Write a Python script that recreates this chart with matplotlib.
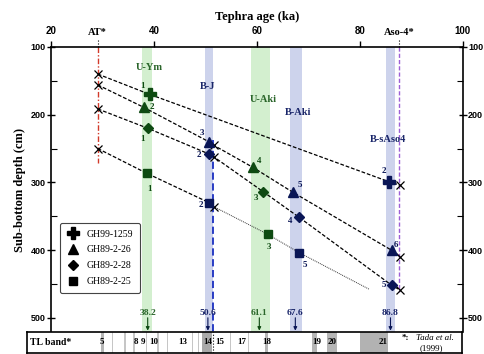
# -*- coding: utf-8 -*-
"""
Tephra age vs. sub-bottom depth for four cores, with the TL band strip.
"""

import numpy as np
import matplotlib.pyplot as plt

#------#
# DATA #
#------#

# Marker tephra age (ka)
age_AT   = 29.1
age_Aso4 = 87.7

# Core points: age (ka), depth (cm), colour class ('g' green / 'b' blue / 'x' cross), label
core_names = ['GH99-1259', 'GH89-2-26', 'GH89-2-28', 'GH89-2-25']

c1259_age   = [29.1, 39.2, 85.7, 87.8]
c1259_depth = [140, 170, 299, 304]
c1259_kind  = ['x', 'g', 'b', 'x']
c1259_lab   = ['', '1', '2', '']

c226_age   = [29.1, 38.0, 50.7, 51.6, 59.3, 67.0, 86.3, 87.8]
c226_depth = [156, 189, 240, 245, 278, 314.5, 400.6, 409.5]
c226_kind  = ['x', 'g', 'b', 'x', 'g', 'b', 'b', 'x']
c226_lab   = ['', '2', '3', '', '4', '5', '6', '']

c228_age   = [29.1, 38.8, 50.7, 51.6, 61.2, 68.2, 86.3, 87.8]
c228_depth = [191.5, 220, 258, 262, 313.5, 351.4, 452.3, 458.7]
c228_kind  = ['x', 'g', 'b', 'x', 'g', 'b', 'b', 'x']
c228_lab   = ['', '1', '2', '', '3', '4', '5', '']

c225_age   = [29.1, 38.6, 50.7, 51.6, 62.1, 68.2]
c225_depth = [250, 286.5, 329.8, 335.7, 376.5, 403.6]
c225_kind  = ['x', 'g', 'b', 'x', 'g', 'b']
c225_lab   = ['', '1', '2', '', '3', '5']
# end of the extrapolated (dotted) line for GH89-2-25
c225_ext_age, c225_ext_depth = 81.8, 457.6

# Tephra bands (ka)
green_bands = [(37.7, 39.7), (58.8, 62.5)]
blue_bands  = [(50.0, 51.5), (66.4, 68.7), (85.2, 86.9)]
band_names  = ['U-Ym', 'B-J', 'U-Aki', 'B-Aki', 'B-sAso4']
band_name_x = [39.2, 50.5, 61.2, 68.0, 85.6]
band_name_y = [131, 159, 178, 197, 236]
band_name_c = ['g', 'b', 'g', 'b', 'b']

# TL ages with arrows
tl_ages   = ['38.2', '50.6', '61.1', '67.6', '86.8']
tl_arrowx = [38.8, 50.5, 60.5, 67.5, 86.0]
tl_col    = ['g', 'b', 'g', 'b', 'b']

# TL band strip: grey boundaries (start, end, grey level) and numbers
tl_bars = [(29.7, 30.3, 0.62), (31.8, 32.1, 0.7), (34.2, 34.5, 0.7), (36.0, 36.3, 0.7),
           (38.4, 38.7, 0.7), (40.6, 40.9, 0.7), (42.5, 42.8, 0.7), (47.3, 47.6, 0.7),
           (48.5, 48.8, 0.7), (49.3, 51.3, 0.55), (54.8, 55.0, 0.7), (58.3, 58.5, 0.7),
           (61.6, 62.1, 0.62), (70.7, 71.7, 0.62), (73.6, 75.5, 0.62), (80.0, 85.4, 0.6)]
tl_nums  = ['5', '8', '9', '10', '13', '14', '15', '17', '18', '19', '20', '21']
tl_numx  = [29.9, 36.6, 37.9, 39.9, 45.6, 50.4, 52.8, 57.0, 61.9, 71.6, 74.5, 84.5]

#--------#
# STYLES #
#--------#

GREEN_D = '#0e4a12'
BLUE_D  = '#0a1656'
GREEN_L = '#d3efcf'
BLUE_L  = '#cdd3ec'
colmap  = {'g': GREEN_D, 'b': BLUE_D, 'x': 'k'}
txtmap  = {'g': '#2a652a', 'b': '#1a266a'}
serif   = 'Liberation Serif'
sans    = 'Liberation Sans'

# label offsets in points for each numbered point
offs = {
    'GH99-1259': [None, (-5, 6), (-4, 8), None],
    'GH89-2-26': [None, (6, 0), (-5, 6), None, (4, 5), (5, 5), (3, 4), None],
    'GH89-2-28': [None, (-4, -8), (-7, -1), None, (-5, -5), (-6, -3), (-6, 0), None],
    'GH89-2-25': [None, (2, -11), (-6, -2), None, (1, -9), (4, -9)],
}
mk = {'GH99-1259': 'P', 'GH89-2-26': '^', 'GH89-2-28': 'D', 'GH89-2-25': 's'}
ms = {'GH99-1259': 8.0, 'GH89-2-26': 6.5, 'GH89-2-28': 5.2, 'GH89-2-25': 6.0}

#------#
# PLOT #
#------#

fig = plt.figure(figsize=(4.84, 3.54), dpi=100)
fig.patch.set_facecolor('white')
ax = fig.add_axes([51/484, 1-332/354, 411.5/484, 285/354])

# bands
for a0, a1 in green_bands:
    ax.axvspan(a0, a1, color=GREEN_L, lw=0, zorder=0)
for a0, a1 in blue_bands:
    ax.axvspan(a0, a1, color=BLUE_L, lw=0, zorder=0)

# marker tephra lines
ax.plot([age_AT, age_AT], [100, 272], color='#d23a2a', lw=1.0,
        dashes=(4, 1.5, 1, 1.5), zorder=1)
ax.plot([age_Aso4, age_Aso4], [100, 462], color='#9d5fd6', lw=1.0,
        dashes=(3, 1.5), zorder=1)
ax.plot([51.5, 51.5], [238, 521], color='#1a2fc0', lw=1.3, dashes=(4, 2), zorder=1)
for xx in [age_AT, age_Aso4]:
    ax.plot([xx, xx], [100, 88], color='k', lw=0.8, ls=':', clip_on=False)

# cores
cores = [(c1259_age, c1259_depth, c1259_kind, c1259_lab),
         (c226_age, c226_depth, c226_kind, c226_lab),
         (c228_age, c228_depth, c228_kind, c228_lab),
         (c225_age, c225_depth, c225_kind, c225_lab)]

for name, (xa, yd, kd, lb) in zip(core_names, cores):
    if name == 'GH89-2-25':
        ax.plot(xa[:4], yd[:4], color='k', lw=0.9, dashes=(3, 1.5), zorder=2)
        ax.plot(xa[3:] + [c225_ext_age], yd[3:] + [c225_ext_depth], color='#333333',
                lw=0.7, ls=(0, (1, 1)), zorder=2)
    else:
        ax.plot(xa, yd, color='k', lw=0.9, dashes=(3, 1.5), zorder=2)
    for i in range(len(xa)):
        if kd[i] == 'x':
            ax.plot(xa[i], yd[i], marker='x', color='k', ms=6, mew=0.9, zorder=3)
        else:
            ax.plot(xa[i], yd[i], marker=mk[name], color=colmap[kd[i]], ms=ms[name],
                    mec=colmap[kd[i]], zorder=4)
            ax.annotate(lb[i], (xa[i], yd[i]), xytext=offs[name][i],
                        textcoords='offset points', ha='center', va='center',
                        fontsize=6.5, fontweight='bold', family=serif,
                        color=colmap[kd[i]])

# band names
for nm, bx, by, bc in zip(band_names, band_name_x, band_name_y, band_name_c):
    ax.text(bx, by, nm, ha='center', va='center', fontsize=7.5, fontweight='bold',
            family=serif, color=txtmap[bc])

ax.text(age_AT, 79, 'AT*', ha='center', va='center', fontsize=7.5, fontweight='bold',
        family=serif, clip_on=False)
ax.text(age_Aso4, 79, 'Aso-4*', ha='center', va='center', fontsize=7.5,
        fontweight='bold', family=serif, clip_on=False)

# TL ages with arrows
for tx, xx, tc in zip(tl_ages, tl_arrowx, tl_col):
    ax.text(xx, 493, tx, ha='center', va='center', fontsize=6.8, fontweight='bold',
            family=serif, color=txtmap[tc])
    ax.annotate('', xy=(xx, 519), xytext=(xx, 500),
                arrowprops=dict(arrowstyle='-|>', color=colmap[tc], lw=0.8,
                                mutation_scale=5, shrinkA=0, shrinkB=0))

# axes
ax.set_xlim(20, 100)
ax.set_ylim(521, 100)
ax.xaxis.tick_top()
ax.xaxis.set_label_position('top')
ax.set_xticks([20, 40, 60, 80, 100])
ax.set_yticks([100, 200, 300, 400, 500])
ax.set_yticks([150, 250, 350, 450], minor=True)
ax.tick_params(axis='x', direction='out', length=4, width=1, pad=4, labelsize=7)
ax.tick_params(axis='y', which='major', direction='inout', length=6, width=1,
               labelsize=6.5, right=True, labelright=True, pad=1)
ax.tick_params(axis='y', which='minor', direction='in', length=4, width=0.8, right=True)
for t in ax.get_xticklabels() + ax.get_yticklabels():
    t.set_fontweight('bold')
    t.set_family(sans)
ax.spines['bottom'].set_visible(False)
for s in ['top', 'left', 'right']:
    ax.spines[s].set_linewidth(1.2)
ax.set_xlabel('Tephra age (ka)', fontsize=9, fontweight='bold', family=serif, labelpad=4)
ax.set_ylabel('Sub-bottom depth (cm)', fontsize=9, fontweight='bold', family=serif,
              labelpad=3)

# legend
hnd = [plt.Line2D([], [], ls='', marker=mk[n], color='k', ms=ms[n]) for n in core_names]
leg = ax.legend(hnd, core_names, loc='upper left', bbox_to_anchor=(0.01, 0.40),
                prop={'family': serif, 'size': 7}, frameon=True, fancybox=True,
                edgecolor='#444444', framealpha=1, handlelength=1.2, handletextpad=0.8,
                labelspacing=0.7, borderpad=0.7)
leg.get_frame().set_linewidth(0.8)

#---------#
# TL band #
#---------#

bx = fig.add_axes([27/484, 1/354, 435/484, 21/354])
bx.set_xlim(15.34, 99.8)
bx.set_ylim(0, 1)
for a0, a1, g in tl_bars:
    bx.axvspan(a0, a1, color=str(g), lw=0, alpha=0.75)
bx.plot([51.5, 51.5], [0, 1], color='k', lw=0.8, ls=':')
for nm, xx in zip(tl_nums, tl_numx):
    bx.text(xx, 0.5, nm, ha='center', va='center', fontsize=6.5, fontweight='bold',
            family=serif)
bx.text(16.0, 0.5, 'TL band*', ha='left', va='center', fontsize=7,
        fontweight='bold', family=serif)
bx.text(88.8, 0.72, '*:', ha='center', va='center', fontsize=6.5, fontweight='bold',
        family=serif)
bx.text(94.6, 0.72, 'Tada et al.', ha='center', va='center', fontsize=6.5,
        style='italic', family=serif)
bx.text(93.9, 0.25, '(1999)', ha='center', va='center', fontsize=6.5, family=serif)
bx.set_xticks([])
bx.set_yticks([])
for s in bx.spines.values():
    s.set_linewidth(1.2)

fig.savefig('out.png', dpi=100)
